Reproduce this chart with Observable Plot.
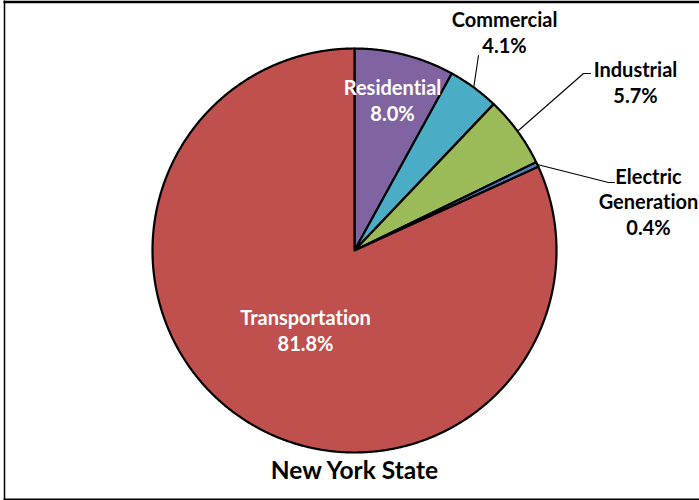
<!DOCTYPE html>
<html>
<head>
<meta charset="utf-8">
<script src="https://cdn.jsdelivr.net/npm/d3@7"></script>
<script src="https://cdn.jsdelivr.net/npm/@observablehq/plot@0.6"></script>
<style>
  html, body { margin: 0; padding: 0; background: #fff; }
  #chart svg { display: block; }
  #chart svg text { font-variant-ligatures: none; font-feature-settings: "liga" 0; }
</style>
</head>
<body>
<div id="chart"></div>
<script>
// ---- data ----
const categories = ["Residential", "Commercial", "Industrial", "Electric Generation", "Transportation"];
const shares = [8.0, 4.1, 5.7, 0.4, 81.8];
const colors = ["#8064A2", "#4BACC6", "#9BBB59", "#4F81BD", "#C0504D"];
const labelLines = [["Residential", "8.0%"], ["Commercial", "4.1%"], ["Industrial", "5.7%"], ["Electric", "Generation", "0.4%"], ["Transportation", "81.8%"]];
const title = "New York State";

// ---- layout ----
const W = 699, H = 500;
const cx = 354, cy = 250, R = 202;
const font = "Lato, 'Open Sans', sans-serif";
const labelLayout = [
  {x: 392, y: 94, color: "white"},
  {x: 504, y: 26, color: "black", leader: [[478, 55]]},
  {x: 635, y: 76, color: "black", leader: [[583, 73], [590, 73]]},
  {x: 648, y: 183, color: "black", leader: [[608, 182], [614, 182]]},
  {x: 305, y: 324, color: "white"}
];

// ---- compute slices ----
const pie = d3.pie().sort(null).value(d => d)(shares);
const pt = (a, r) => [cx + r * Math.sin(a), cy - r * Math.cos(a)];
const slicePts = [];
pie.forEach((p, i) => {
  const n = Math.max(4, Math.ceil((p.endAngle - p.startAngle) / (Math.PI / 720)));
  slicePts.push({cat: categories[i], x: cx, y: cy});
  for (let j = 0; j <= n; j++) {
    const a = p.startAngle + (p.endAngle - p.startAngle) * j / n;
    const [x, y] = pt(a, R);
    slicePts.push({cat: categories[i], x, y});
  }
});

// leaders
const leaderPts = [];
pie.forEach((p, i) => {
  const L = labelLayout[i].leader;
  if (!L) return;
  const mid = (p.startAngle + p.endAngle) / 2;
  const [x0, y0] = pt(mid, R);
  leaderPts.push({cat: categories[i], x: x0, y: y0});
  L.forEach(([x, y]) => leaderPts.push({cat: categories[i], x, y}));
});

// labels
const labelRows = [];
labelLines.forEach((lines, i) => {
  const L = labelLayout[i];
  lines.forEach((t, j) => labelRows.push({text: t, x: L.x, y: L.y + j * (i === 3 ? 25.5 : 26.5), color: L.color}));
});

const chart = Plot.plot({
  width: W, height: H,
  margin: 0,
  x: {domain: [0, W], range: [0, W], axis: null},
  y: {domain: [0, H], range: [0, H], axis: null},
  color: {domain: categories, range: colors},
  style: {fontFamily: font, background: "white"},
  marks: [
    Plot.ruleY([1.5], {x1: 3.5, x2: W, stroke: "black", strokeWidth: 2.5}),
    Plot.ruleY([498.8], {x1: 3.5, x2: W, stroke: "black", strokeWidth: 1.6}),
    Plot.ruleX([4], {y1: 0.5, y2: 499.5, stroke: "black", strokeWidth: 1.5}),
    Plot.line(slicePts, {x: "x", y: "y", z: "cat", fill: "cat", stroke: "black", strokeWidth: 2.2, strokeLinejoin: "round", curve: "linear-closed"}),
    Plot.line(leaderPts, {x: "x", y: "y", z: "cat", stroke: "black", strokeWidth: 1.1}),
    Plot.text(labelRows, {x: "x", y: "y", text: "text", fill: d => d.color, fontSize: 20, fontWeight: "bold", lineAnchor: "bottom", textAnchor: "middle"}),
    Plot.text([title], {x: cx, y: 478, text: d => d, fill: "black", fontSize: 24.5, fontWeight: "bold", lineAnchor: "bottom", textAnchor: "middle"})
  ]
});
document.getElementById("chart").append(chart);
</script>
</body>
</html>
